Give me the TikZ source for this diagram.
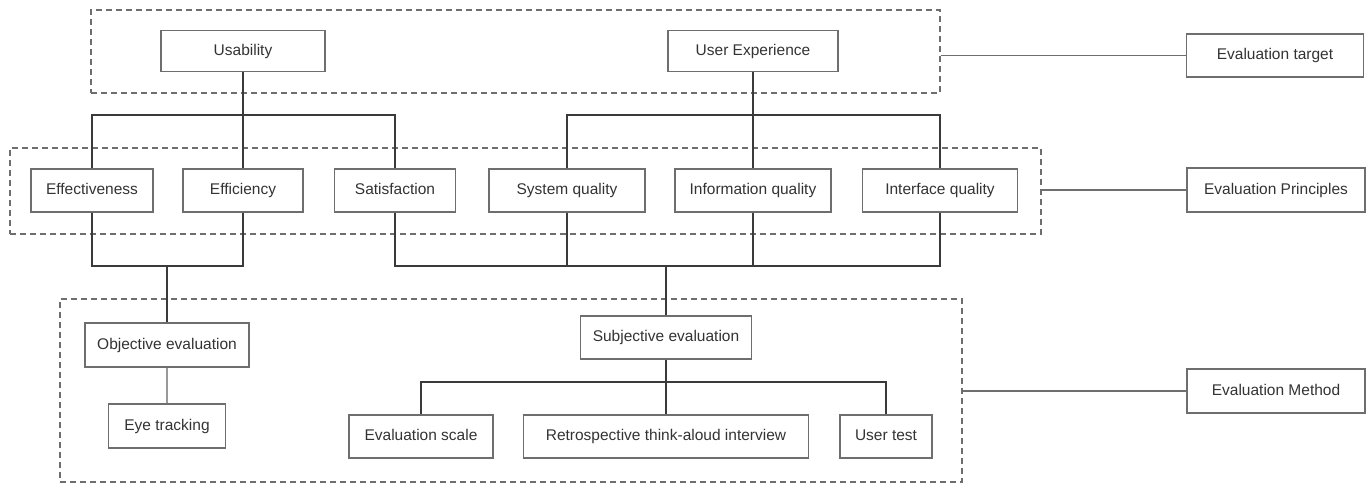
\documentclass[tikz,border=0pt]{standalone}
\usepackage{fontspec}
\setmainfont{Liberation Sans}
\usepackage{tikz}
\usetikzlibrary{calc}
\usetikzlibrary{positioning}

\definecolor{boxgray}{HTML}{6E6E6E}
\definecolor{linegray}{HTML}{3A3A3A}
\definecolor{textgray}{HTML}{333333}

\tikzset{
  item/.style={draw=boxgray,line width=1.2pt,rectangle,minimum height=43pt,inner sep=0pt,
    text height=11pt,text depth=3pt,
    text=textgray,font=\fontsize{15.5}{18}\selectfont},
  group/.style={draw=boxgray,line width=1.2pt,dash pattern=on 6pt off 4pt,rectangle,inner sep=0pt},
  link/.style={draw=linegray,line width=1.6pt},
  side/.style={draw=boxgray,line width=1.2pt},
}

\begin{document}
\begin{tikzpicture}[x=1pt,y=-1pt]
      \useasboundingbox (0,0) rectangle (1368,485);

      % dashed groups
      \node[group,minimum width=849pt,minimum height=83pt] (gtarget) at (515.5,51.5) {};
      \node[group,minimum width=1031pt,minimum height=86pt] (gprinc) at (525.5,191) {};
      \node[group,minimum width=902pt,minimum height=183pt] (gmethod) at (511,390.5) {};

      % evaluation target
      \node[item,minimum width=164pt,minimum height=41pt] (use) at (243,51) {Usability};
      \node[item,minimum width=170pt,minimum height=41pt] (ux) at (753,51) {User Experience};

      % evaluation principles
      \node[item,minimum width=122pt] (effe) at (92,190.5) {Effectiveness};
      \node[item,minimum width=120pt] (effi) at (243,190.5) {Efficiency};
      \node[item,minimum width=121pt] (sat) at (395,190.5) {Satisfaction};
      \node[item,minimum width=156pt] (sys) at (567,190.5) {System quality};
      \node[item,minimum width=156pt] (info) at (753,190.5) {Information quality};
      \node[item,minimum width=155pt] (intf) at (940,190.5) {Interface quality};

      % evaluation method
      \node[item,minimum width=164pt,minimum height=44pt] (obj) at (167,345) {Objective evaluation};
      \node[item,minimum width=117pt,minimum height=44pt] (eye) at (167,426) {Eye tracking};
      \node[item,minimum width=171pt] (subj) at (666,337.5) {Subjective evaluation};
      \node[item,minimum width=144pt] (scale) at (421,436.5) {Evaluation scale};
      \node[item,minimum width=285pt] (retro) at (666,436.5) {Retrospective think-aloud interview};
      \node[item,minimum width=92pt] (utest) at (886,436.5) {User test};

      % side labels
      \node[item,minimum width=177pt] (target) at (1275,55.5) {Evaluation target};
      \node[item,minimum width=178pt,minimum height=44pt] (princ) at (1276,190) {Evaluation Principles};
      \node[item,minimum width=178pt,minimum height=44pt] (method) at (1276,391) {Evaluation Method};

      \coordinate (topbus) at (0,115);
      \coordinate (midbus) at (0,266);
      \coordinate (lowbus) at (0,382);

      \draw[link] (use.south) -- (effi.north);
      \draw[link] (effe.north) -- (effe.north |- topbus) -- (sat.north |- topbus) -- (sat.north);
      \draw[link] (ux.south) -- (info.north);
      \draw[link] (sys.north) -- (sys.north |- topbus) -- (intf.north |- topbus) -- (intf.north);

      \draw[link] (effe.south) -- (effe.south |- midbus) -- (effi.south |- midbus) -- (effi.south);
      \draw[link] (obj.north) -- (obj.north |- midbus);
      \draw[link] (sat.south) -- (sat.south |- midbus) -- (intf.south |- midbus) -- (intf.south);
      \draw[link] (sys.south) -- (sys.south |- midbus);
      \draw[link] (info.south) -- (info.south |- midbus);
      \draw[link] (subj.north) -- (subj.north |- midbus);

      \draw[link,draw=boxgray!70] (obj.south) -- (eye.north);
      \draw[link] (subj.south) -- (retro.north);
      \draw[link] (scale.north) -- (scale.north |- lowbus) -- (utest.north |- lowbus) -- (utest.north);

      \draw[side] (target.west -| gtarget.east) -- (target.west);
      \draw[side] (princ.west -| gprinc.east) -- (princ.west);
      \draw[side] (method.west -| gmethod.east) -- (method.west);
\end{tikzpicture}
\end{document}
